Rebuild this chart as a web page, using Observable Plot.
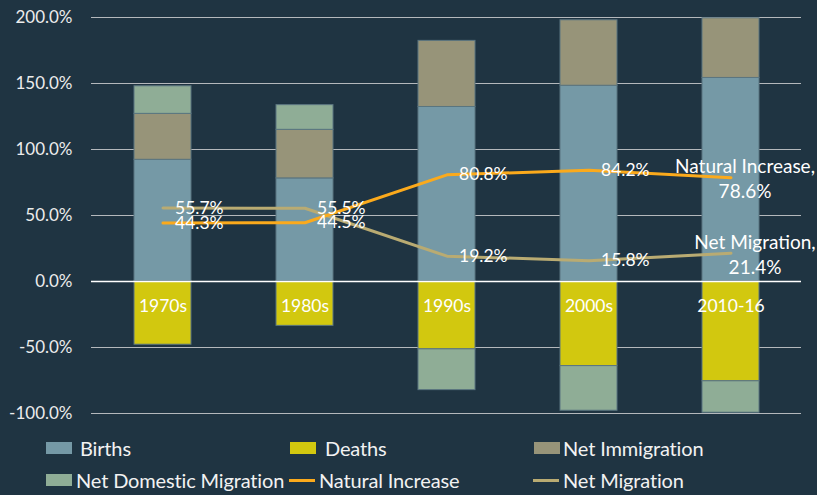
<!DOCTYPE html>
<html>
<head>
<meta charset="utf-8">
<script src="https://cdn.jsdelivr.net/npm/d3@7"></script>
<script src="https://cdn.jsdelivr.net/npm/@observablehq/plot@0.6"></script>
<style>
  html, body { margin: 0; padding: 0; background: #1f3442; }
  body { width: 817px; height: 495px; overflow: hidden; font-family: Lato, "Open Sans", sans-serif; }
  #legend { position: relative; height: 65px; color: #f2f2f2; font-size: 20px; letter-spacing: -0.15px; }
  .sw, .ln, .tx { position: absolute; }
  .tx { line-height: 24px; white-space: nowrap; }
</style>
</head>
<body>
<div id="chart"></div>
<div id="legend"></div>
<script>
const decades = ["1970s", "1980s", "1990s", "2000s", "2010-16"];
const births = [92.2, 78.1, 132.2, 148.3, 154.2];
const deaths = [-47.9, -33.6, -51.4, -64.1, -75.6];
const netImmigration = [34.8, 36.8, 50.1, 49.6, 45.2];
const netDomesticMigration = [20.9, 18.7, -30.9, -33.8, -23.8];
const naturalIncrease = [44.3, 44.5, 80.8, 84.2, 78.6];
const netMigration = [55.7, 55.5, 19.2, 15.8, 21.4];
const yTicks = [-100, -50, 0, 50, 100, 150, 200];

const seriesNames = ["Births", "Deaths", "Net Immigration", "Net Domestic Migration"];
const seriesColors = ["#7599a6", "#d2c80f", "#979479", "#8fad96"];
const natColor = "#fbaa1c";
const migColor = "#b9ab72";
const barSeries = [births, deaths, netImmigration, netDomesticMigration];
const barData = [];
seriesNames.forEach((s, si) => decades.forEach((d, i) => barData.push({decade: d, series: s, value: barSeries[si][i]})));

const natData = decades.map((d, i) => ({decade: d, value: naturalIncrease[i]}));
const migData = decades.map((d, i) => ({decade: d, value: netMigration[i]}));
const last = decades.length - 1;
const fmt = v => v.toFixed(1) + "%";

const chart = Plot.plot({
  width: 817,
  height: 430,
  marginTop: 17,
  marginBottom: 17,
  marginLeft: 91,
  marginRight: 16,
  style: {background: "#1f3442", color: "#ececec", fontFamily: "Lato, 'Open Sans', sans-serif", fontSize: "17px"},
  x: {domain: decades, paddingInner: 0.6, paddingOuter: 0.3, axis: null},
  y: {domain: [-100, 200], ticks: yTicks, tickFormat: fmt, tickSize: 0, tickPadding: 19, label: null},
  color: {domain: seriesNames, range: seriesColors},
  marks: [
    Plot.ruleY(yTicks.filter(t => t !== 0), {stroke: "#b4b8bc", strokeWidth: 1.2}),
    Plot.barY(barData, Plot.stackY({x: "decade", y: "value", fill: "series", stroke: "#5a7580", strokeWidth: 1, inset: 0})),
    Plot.ruleY([0], {stroke: "#ffffff", strokeWidth: 1.5}),
    Plot.text(decades, {x: d => d, y: () => 0, text: d => d, dy: 25, fill: "#ffffff", fontSize: 17.5}),
    Plot.line(migData, {x: "decade", y: "value", stroke: migColor, strokeWidth: 3}),
    Plot.line(natData, {x: "decade", y: "value", stroke: natColor, strokeWidth: 3}),
    Plot.text(migData.slice(0, last), {x: "decade", y: "value", text: d => fmt(d.value), textAnchor: "start", dx: 12, fill: "#ffffff", fontSize: 17.5}),
    Plot.text(natData.slice(0, last), {x: "decade", y: "value", text: d => fmt(d.value), textAnchor: "start", dx: 12, fill: "#ffffff", fontSize: 17.5}),
    Plot.text([natData[last]], {x: "decade", y: "value", text: d => "Natural Increase,\n" + fmt(d.value), textAnchor: "middle", dx: 14, lineHeight: 1.3, fill: "#ffffff", fontSize: 19}),
    Plot.text([migData[last]], {x: "decade", y: "value", text: d => "Net Migration,\n" + fmt(d.value), textAnchor: "middle", dx: 24, lineHeight: 1.3, fill: "#ffffff", fontSize: 19})
  ]
});
document.getElementById("chart").appendChild(chart);

// Legend (positions relative to the legend box, which starts at y = 430)
const legendItems = [
  {label: "Births", kind: "sw", color: seriesColors[0], sx: 46, tx: 80, cy: 18},
  {label: "Deaths", kind: "sw", color: seriesColors[1], sx: 290, tx: 325, cy: 18},
  {label: "Net Immigration", kind: "sw", color: seriesColors[2], sx: 534, tx: 563, cy: 18},
  {label: "Net Domestic Migration", kind: "sw", color: seriesColors[3], sx: 46, tx: 76, cy: 50},
  {label: "Natural Increase", kind: "ln", color: natColor, sx: 289, tx: 319, cy: 50},
  {label: "Net Migration", kind: "ln", color: migColor, sx: 533, tx: 563, cy: 50}
];
const legend = document.getElementById("legend");
legendItems.forEach(it => {
  const sw = document.createElement("div");
  sw.className = it.kind;
  const w = 26, h = it.kind === "sw" ? 12 : 3;
  Object.assign(sw.style, {left: it.sx + "px", top: (it.cy - h / 2) + "px", width: w + "px", height: h + "px", background: it.color});
  const tx = document.createElement("div");
  tx.className = "tx";
  tx.textContent = it.label;
  Object.assign(tx.style, {left: it.tx + "px", top: (it.cy - 12) + "px"});
  legend.appendChild(sw);
  legend.appendChild(tx);
});
</script>
</body>
</html>
